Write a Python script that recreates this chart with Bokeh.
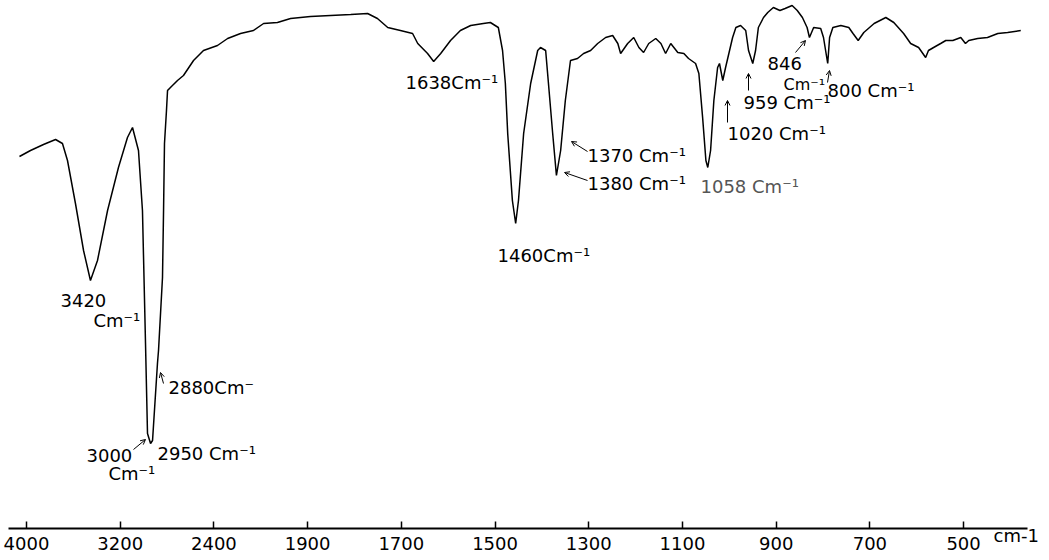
import numpy as np
from bokeh.plotting import figure
from bokeh.models import Range1d, FixedTicker, Label, Arrow, OpenHead
from bokeh.embed import file_html
from bokeh.resources import INLINE

# ---- axis ticks (non-linear spectrometer chart paper) ----
tick_values = [4000, 3200, 2400, 1900, 1700, 1500, 1300, 1100, 900, 700, 500]
tick_labels = ["4000", "3200", "2400", "1900", "1700", "1500", "1300", "1100", "900", "700", "500"]

# ---- spectrum: wavenumber (cm-1) and transmittance (arbitrary %) ----
wavenumber = [4060, 3966, 3855, 3752, 3693, 3650, 3582, 3513, 3454, 3394, 3308, 3215, 3138, 3095,
              3044, 3010, 2984, 2967, 2941, 2924, 2882, 2873, 2839, 2830, 2822, 2805, 2796, 2771,
              2711, 2660, 2574, 2489, 2381, 2327, 2258, 2189, 2135, 2061, 1991, 1894, 1851, 1808,
              1772, 1751, 1729, 1702, 1676, 1665, 1644, 1631, 1616, 1595, 1574, 1552, 1525, 1510,
              1493, 1484, 1478, 1473, 1463, 1456, 1450, 1439, 1424, 1409, 1403, 1392, 1386, 1377,
              1369, 1360, 1350, 1339, 1324, 1311, 1296, 1281, 1264, 1249, 1238, 1232, 1217, 1204,
              1193, 1183, 1172, 1157, 1146, 1136, 1125, 1110, 1097, 1087, 1072, 1065, 1057, 1050,
              1046, 1040, 1033, 1025, 1021, 1014, 1008, 1001, 993, 986, 976, 965, 959, 950, 944,
              938, 927, 918, 906, 892, 881, 866, 855, 844, 834, 829, 820, 805, 799, 790, 786, 779,
              762, 745, 736, 725, 713, 691, 666, 649, 628, 613, 596, 581, 575, 564, 549, 538, 523,
              506, 496, 489, 470, 449, 427, 406, 378]
transmittance = [74.4, 75.6, 76.8, 77.8, 77.0, 73.6, 65.0, 55.6, 49.6, 53.6, 63.6, 72.2, 78.2, 80.2,
                 75.6, 63.6, 37.0, 19.0, 17.0, 17.6, 33.0, 35.6, 50.2, 63.6, 77.0, 83.6, 87.6, 88.2,
                 89.6, 90.6, 93.6, 95.6, 96.6, 98.0, 99.0, 99.6, 101.0, 101.2, 102.0, 102.4, 102.6, 102.8,
                 103.0, 102.0, 100.2, 99.6, 99.0, 97.0, 95.0, 93.4, 95.0, 97.6, 99.6, 100.6, 101.0, 101.2,
                 100.2, 95.6, 89.0, 79.0, 65.6, 61.0, 65.6, 79.0, 89.0, 95.6, 96.2, 95.6, 89.0, 79.0,
                 70.6, 75.6, 85.6, 93.6, 94.0, 95.0, 95.6, 97.0, 98.2, 98.6, 97.0, 95.0, 97.0, 98.2,
                 96.2, 95.2, 97.0, 98.0, 97.0, 95.0, 97.0, 95.2, 95.0, 94.0, 93.0, 91.0, 82.2, 73.6,
                 72.2, 75.6, 85.6, 92.2, 93.0, 89.6, 92.2, 95.0, 98.2, 100.2, 100.6, 99.6, 95.6, 93.0, 95.6,
                 100.2, 102.2, 103.2, 104.2, 103.6, 104.0, 104.6, 103.6, 102.2, 100.2, 98.2, 100.2, 100.0, 98.2, 93.0, 98.2, 100.2,
                 100.6, 100.2, 99.0, 97.6, 99.2, 101.0, 102.2, 101.2, 99.0, 97.0, 96.2, 94.2, 95.6, 96.2, 97.0, 97.6, 97.6,
                 98.2, 97.0, 97.6, 98.0, 98.2, 99.0, 99.2, 99.6]

# ---- peak annotations: text, left x / centre y in page pixels ----
ann_texts = ["3420", "Cm\u207b\u00b9", "2880Cm\u207b", "3000", "Cm\u207b\u00b9", "2950 Cm\u207b\u00b9",
             "1638Cm\u207b\u00b9", "1460Cm\u207b\u00b9", "1370 Cm\u207b\u00b9", "1380 Cm\u207b\u00b9",
             "1058 Cm\u207b\u00b9", "1020 Cm\u207b\u00b9", "959 Cm\u207b\u00b9", "846", "Cm\u207b\u00b9",
             "800 Cm\u207b\u00b9"]
ann_px = [60, 93, 168, 86, 108, 157, 405, 497, 587, 587, 700, 727, 743, 767, 783, 827]
ann_py = [300, 320, 387, 455, 473, 453, 82, 255, 155, 183, 186, 133, 102, 63, 84, 90]
ann_size = ["18px"] * 14 + ["16px", "18px"]
ann_color = ["black"] * 10 + ["#555555"] + ["black"] * 5

# small arrows (page pixels): x_start, y_start, x_end, y_end
arr_x0 = [163, 133, 587, 587, 727, 748, 795, 827]
arr_y0 = [383, 449, 151, 180, 122, 90, 52, 82]
arr_x1 = [160, 145, 571, 564, 727, 748, 805, 829]
arr_y1 = [372, 439, 141, 172, 100, 73, 40, 70]

W, H = 1049, 560
AXIS_PY = 528
PX_PER_TICK = 93.71
X0 = -26 / PX_PER_TICK
X1 = X0 + W / PX_PER_TICK


def to_pos(w):
    w = np.asarray(w, float)
    t = np.array(tick_values, float)
    i = np.arange(len(t), dtype=float)
    p = np.interp(-w, -t, i)
    p = np.where(w > t[0], (t[0] - w) / (t[0] - t[1]), p)
    p = np.where(w < t[-1], i[-1] + (t[-1] - w) / (t[-2] - t[-1]), p)
    return p


def px_x(px):
    return X0 + px / PX_PER_TICK


def px_y(py):
    return (AXIS_PY - py) / 5.0


p = figure(width=W, height=H, output_backend="svg", toolbar_location=None,
           x_range=Range1d(X0, X1), y_range=Range1d(px_y(H), px_y(0)),
           y_axis_location=None, min_border_left=0, min_border_right=0,
           min_border_top=0, min_border_bottom=0)
p.outline_line_color = None
p.xgrid.visible = False
p.ygrid.visible = False
p.background_fill_color = "white"
p.border_fill_color = "white"

p.line(to_pos(wavenumber), transmittance, line_color="black", line_width=1.5)

ax = p.xaxis[0]
ax.fixed_location = 0
ax.bounds = (px_x(8), px_x(1027))
ax.ticker = FixedTicker(ticks=list(range(len(tick_values))))
ax.major_label_overrides = {i: lab for i, lab in enumerate(tick_labels)}
ax.minor_tick_line_color = None
ax.major_tick_in = 7
ax.major_tick_out = 0
ax.major_tick_line_width = 1.5
ax.axis_line_width = 2
ax.axis_line_color = "black"
ax.major_tick_line_color = "black"
ax.major_label_text_font = "DejaVu Sans"
ax.major_label_text_font_size = "18px"
ax.major_label_text_color = "black"
ax.major_label_standoff = 8

for t, x, y, c, s in zip(ann_texts, ann_px, ann_py, ann_color, ann_size):
    p.add_layout(Label(x=px_x(x), y=px_y(y), text=t, text_font="DejaVu Sans",
                       text_font_size=s, text_color=c,
                       text_baseline="middle", text_align="left"))

for xa, ya, xb, yb in zip(arr_x0, arr_y0, arr_x1, arr_y1):
    p.add_layout(Arrow(x_start=px_x(xa), y_start=px_y(ya), x_end=px_x(xb), y_end=px_y(yb),
                       line_width=1, line_color="black",
                       end=OpenHead(size=5, line_width=1, line_color="black")))

p.add_layout(Label(x=px_x(993), y=px_y(535), text="cm-1", text_font="DejaVu Sans",
                   text_font_size="18px", text_color="black",
                   text_baseline="middle", text_align="left"))

open("out.html", "w").write(file_html(p, INLINE))
